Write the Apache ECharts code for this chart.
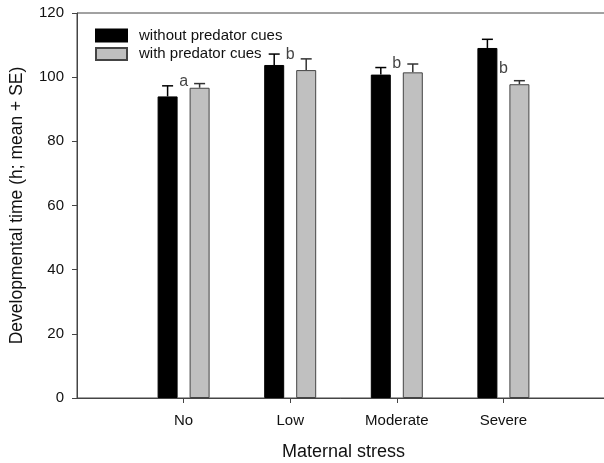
<!DOCTYPE html>
<html><head><meta charset="utf-8">
<script src="https://cdn.jsdelivr.net/npm/echarts@6/dist/echarts.min.js"></script>
<style>html,body{margin:0;padding:0;background:#fff}#c{width:604px;height:463px}</style>
</head><body><div id="c"></div>
<script>
var categories = ["No", "Low", "Moderate", "Severe"];
var withoutMean = [94.0, 103.8, 100.8, 109.1];
var withoutSE = [3.3, 3.4, 2.2, 2.7];
var withMean = [96.7, 102.2, 101.5, 97.8];
var withSE = [1.3, 3.5, 2.6, 1.1];
var letters = ["a", "b", "b", "b"];
var letterY = [98.5, 107.0, 104.1, 102.6];
var yTicks = [0, 20, 40, 60, 80, 100, 120];

var FONT = "Liberation Sans, Arial, sans-serif";
var axisCats = [""].concat(categories).concat([""]);
function pad(arr){ return ["-"].concat(arr).concat(["-"]); }
function errData(mean, se){
  var out = [];
  for (var i=0;i<mean.length;i++) out.push([i+1, mean[i], mean[i]+se[i]]);
  return out;
}
function errSeries(mean, se, offset, color){
  return {
    type:'custom', z:1,
    renderItem: function(params, api){
      var base = api.coord([api.value(0), api.value(1)]);
      var top = api.coord([api.value(0), api.value(2)]);
      var x = base[0] + offset;
      return {type:'group', children:[
        {type:'line', shape:{x1:x,y1:base[1],x2:x,y2:top[1]}, style:{stroke:color,lineWidth:1.5}},
        {type:'line', shape:{x1:x-5.5,y1:top[1],x2:x+5.5,y2:top[1]}, style:{stroke:color,lineWidth:1.5}}
      ]};
    },
    data: errData(mean, se),
    silent:true
  };
}
var letterData = [];
for (var i=0;i<letters.length;i++) letterData.push([i+1, letterY[i], letters[i]]);

var chart = echarts.init(document.getElementById('c'), null, {renderer:'canvas'});
chart.setOption({
  animation:false,
  backgroundColor:'#fff',
  grid:{left:77, top:13, width:533, height:385, show:true, borderColor:'#444', borderWidth:1,
        containLabel:false, outerBoundsMode:'none'},
  legend:{
    orient:'vertical', left:95, top:28, padding:0, itemWidth:31, itemHeight:12, itemGap:3.5, icon:'rect',
    textStyle:{fontFamily:FONT, fontSize:15, color:'#111', padding:[0,0,0,7]},
    data:['without predator cues','with predator cues']
  },
  xAxis:{
    type:'category', data:axisCats, boundaryGap:false,
    axisLine:{lineStyle:{color:'#444', width:1}},
    axisTick:{length:5, lineStyle:{color:'#444'}, interval:function(i){return i>0 && i<axisCats.length-1;}},
    axisLabel:{fontFamily:FONT, fontSize:15, color:'#111', margin:15, interval:0},
    name:'Maternal stress', nameLocation:'middle', nameGap:45,
    nameTextStyle:{fontFamily:FONT, fontSize:18, color:'#111'}
  },
  yAxis:{
    type:'value', min:0, max:120, interval:20,
    axisLine:{show:true, lineStyle:{color:'#444', width:1}},
    axisTick:{show:true, length:5, lineStyle:{color:'#444'}},
    splitLine:{show:false},
    axisLabel:{fontFamily:FONT, fontSize:15, color:'#111', margin:13},
    name:'Developmental time (h; mean + SE)', nameLocation:'middle', nameGap:51,
    nameTextStyle:{fontFamily:FONT, fontSize:17.5, color:'#111'}
  },
  series:[
    {name:'without predator cues', type:'bar', data:pad(withoutMean), barWidth:20, barGap:'60%',
     itemStyle:{color:'#000', borderColor:'#000', borderWidth:1}, z:2},
    {name:'with predator cues', type:'bar', data:pad(withMean), barWidth:20,
     itemStyle:{color:'#c0c0c0', borderColor:'#444', borderWidth:1}, z:2},
    errSeries(withoutMean, withoutSE, -16, '#000'),
    errSeries(withMean, withSE, 16, '#333'),
    {type:'scatter', symbolSize:0, data:letterData, silent:true,
     label:{show:true, position:'inside', formatter:function(p){return p.data[2];},
            fontFamily:FONT, fontSize:16, color:'#111'}}
  ]
});
</script></body></html>
